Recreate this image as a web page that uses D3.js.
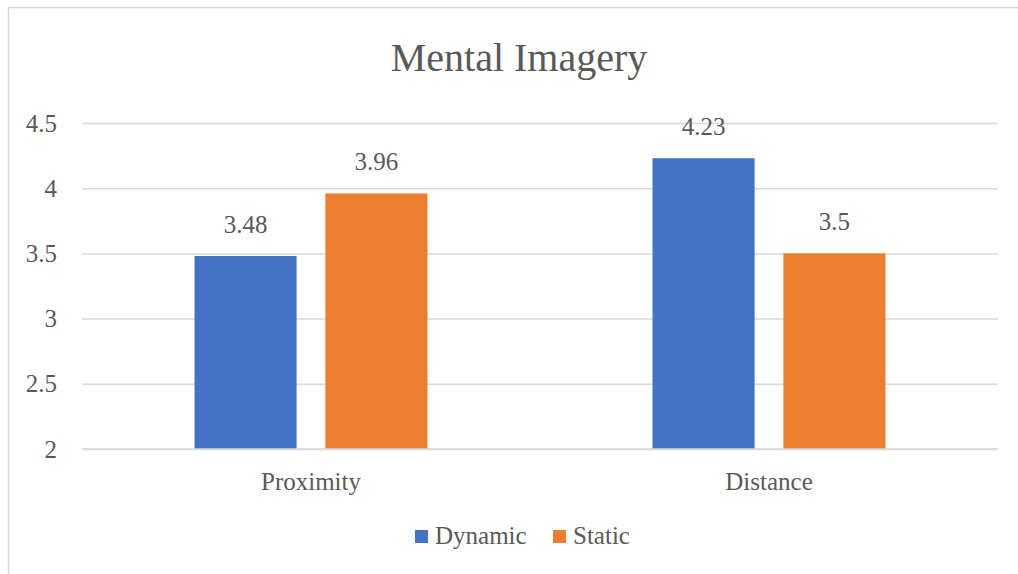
<!DOCTYPE html>
<html><head><meta charset="utf-8">
<script src="https://cdn.jsdelivr.net/npm/d3@7"></script>
<style>body{margin:0;background:#fff}svg{display:block}</style>
</head><body>
<svg id="c" width="1018" height="574"></svg>
<script>
const categories = ["Proximity", "Distance"];
const seriesNames = ["Dynamic", "Static"];
const dynamicValues = [3.48, 4.23];
const staticValues = [3.96, 3.5];
const yTicks = [2, 2.5, 3, 3.5, 4, 4.5];
const colors = ["#4472C4", "#ED7D31"];
const title = "Mental Imagery";

const font = "'Liberation Serif', 'DejaVu Serif', serif";
const textColor = "#595959";
const svg = d3.select("#c");

svg.append("rect").attr("x", 8.5).attr("y", 7.5).attr("width", 1030).attr("height", 600)
  .attr("fill", "#fff").attr("stroke", "#d9d9d9").attr("stroke-width", 1.5);

const plotLeft = 82, plotRight = 998, plotTop = 123, plotBottom = 449;
const y = d3.scaleLinear().domain([2, 4.5]).range([plotBottom, plotTop]);
const x0 = d3.scaleBand().domain(categories).range([plotLeft, plotRight]);
const x1 = d3.scaleBand().domain(seriesNames).range([0, 233]).paddingInner(0.22);

// gridlines
const yAxis = d3.axisLeft(y).tickValues(yTicks).tickSize(-(plotRight - plotLeft)).tickFormat(d3.format("~g"));
const gy = svg.append("g").attr("transform", `translate(${plotLeft},0)`).call(yAxis);
gy.select(".domain").remove();
gy.selectAll(".tick line").attr("stroke", "#d9d9d9").attr("stroke-width", 1.5);
gy.selectAll(".tick text").attr("x", -25).attr("fill", textColor)
  .style("font-family", font).style("font-size", "25px");

const data = categories.map((c, i) => ({cat: c, vals: [
  {s: seriesNames[0], v: dynamicValues[i]}, {s: seriesNames[1], v: staticValues[i]}]}));

const groups = svg.append("g").selectAll("g").data(data).join("g")
  .attr("transform", d => `translate(${x0(d.cat) + x0.bandwidth()/2 - 116.5},0)`);
groups.selectAll("rect").data(d => d.vals).join("rect")
  .attr("x", d => x1(d.s)).attr("width", x1.bandwidth())
  .attr("y", d => y(d.v)).attr("height", d => y(2) - y(d.v))
  .attr("fill", (d, i) => colors[i]);
groups.selectAll("text").data(d => d.vals).join("text")
  .attr("x", d => x1(d.s) + x1.bandwidth()/2).attr("y", d => y(d.v) - 23)
  .attr("text-anchor", "middle").attr("fill", textColor)
  .style("font-family", font).style("font-size", "25px").text(d => d.v);

// x axis labels
const xAxis = d3.axisBottom(x0).tickSize(0);
const gx = svg.append("g").attr("transform", `translate(0,${plotBottom})`).call(xAxis);
gx.select(".domain").remove();
gx.selectAll(".tick text").attr("y", 41).attr("dy", "0").attr("fill", textColor)
  .style("font-family", font).style("font-size", "25px");
svg.append("line").attr("x1", plotLeft).attr("x2", plotRight).attr("y1", plotBottom).attr("y2", plotBottom)
  .attr("stroke", "#d9d9d9").attr("stroke-width", 1.5);

// title
svg.append("text").attr("x", 519).attr("y", 71).attr("text-anchor", "middle")
  .attr("fill", textColor).style("font-family", font).style("font-size", "40px").text(title);

// legend
const legendX = [415, 553];
const lg = svg.append("g").selectAll("g").data(seriesNames).join("g")
  .attr("transform", (d, i) => `translate(${legendX[i]},0)`);
lg.append("rect").attr("x", 0).attr("y", 530).attr("width", 13).attr("height", 13)
  .attr("fill", (d, i) => colors[i]);
lg.append("text").attr("x", 20).attr("y", 544).attr("fill", textColor)
  .style("font-family", font).style("font-size", "25px").text(d => d);
</script>
</body></html>
